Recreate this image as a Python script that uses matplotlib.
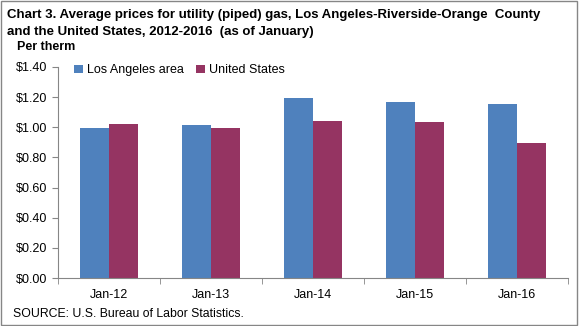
import numpy as np
import matplotlib.pyplot as plt
from matplotlib.patches import Rectangle

plt.rcParams["font.family"] = ["Liberation Sans", "DejaVu Sans"]

categories = ["Jan-12", "Jan-13", "Jan-14", "Jan-15", "Jan-16"]
la_prices = [0.996, 1.014, 1.192, 1.166, 1.153]
us_prices = [1.020, 0.993, 1.040, 1.034, 0.897]
yticks = [0.0, 0.2, 0.4, 0.6, 0.8, 1.0, 1.2, 1.4]

fig = plt.figure(figsize=(5.79, 3.26), dpi=100)
ax = fig.add_axes([0.1, 0.147, 0.881, 0.648])

x = np.arange(len(categories))
w = 0.285
ax.bar(x - w / 2, la_prices, w, color="#4F81BD", label="Los Angeles area")
ax.bar(x + w / 2, us_prices, w, color="#953462", label="United States")

ax.set_xlim(-0.5, len(categories) - 0.5)
ax.set_ylim(0, 1.4)
ax.set_yticks(yticks)
ax.set_yticklabels([f"${v:.2f}" for v in yticks], fontsize=9)
ax.set_xticks(x)
ax.set_xticklabels(categories, fontsize=9)
# tick marks sit between the groups, like Excel
ax.set_xticks(np.arange(-0.5, len(categories)), minor=True)
ax.tick_params(axis="x", which="major", length=0, pad=8)
ax.tick_params(axis="x", which="minor", length=4, color="#868686")
ax.tick_params(axis="y", length=4, color="#868686", pad=4)

for s in ["top", "right"]:
    ax.spines[s].set_visible(False)
for s in ["left", "bottom"]:
    ax.spines[s].set_color("#868686")

ax.legend(loc="upper left", bbox_to_anchor=(0.01, 1.065), ncol=2, frameon=False,
          fontsize=9, handlelength=0.7, handleheight=0.7, handletextpad=0.3,
          columnspacing=1.0)

fig.text(0.012, 0.953, "Chart 3. Average prices for utility (piped) gas, Los Angeles-Riverside-Orange  County",
         fontsize=9.5, fontweight="bold", va="center")
fig.text(0.012, 0.903, "and the United States, 2012-2016  (as of January)",
         fontsize=9.5, fontweight="bold", va="center")
fig.text(0.03, 0.855, "Per therm", fontsize=9, fontweight="bold", va="center")
fig.text(0.022, 0.038, "SOURCE: U.S. Bureau of Labor Statistics.", fontsize=8.8, va="center")

fig.patches.append(Rectangle((0.002, 0.003), 0.995, 0.994, transform=fig.transFigure,
                             fill=False, edgecolor="#868686", linewidth=1))

fig.savefig("out.png", dpi=100)
